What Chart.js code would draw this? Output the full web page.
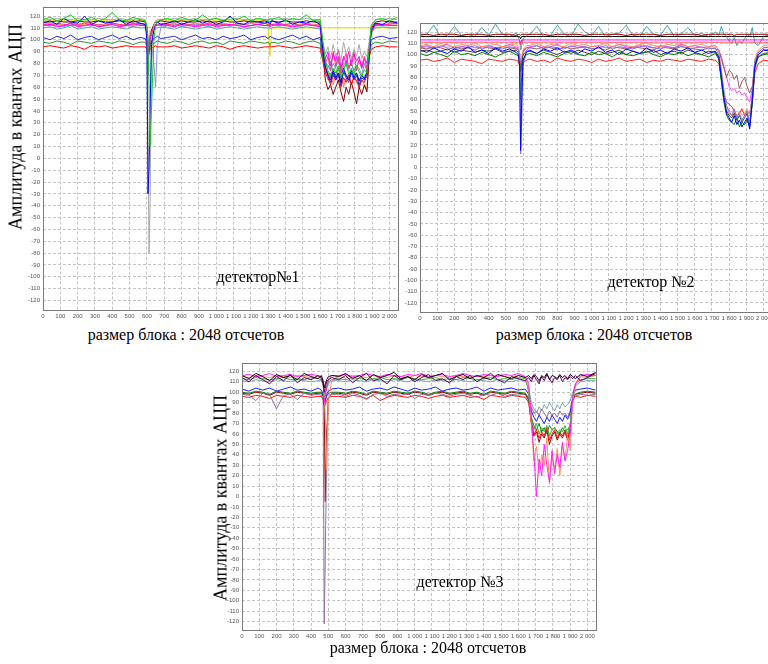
<!DOCTYPE html>
<html>
<head>
<meta charset="utf-8">
<script src="https://cdn.jsdelivr.net/npm/chart.js@4.4.1/dist/chart.umd.min.js"></script>
<style>
html,body{margin:0;padding:0;background:#fff;}
body{width:768px;height:664px;overflow:hidden;position:relative;}
.box{position:absolute;}
.txt{position:absolute;font-family:"Liberation Serif","Times New Roman",serif;color:#000;white-space:nowrap;}
.rot{transform:translate(-50%,-50%) rotate(-90deg);}
.ctr{transform:translate(-50%,-50%);}
</style>
</head>
<body>
<div class="box" style="left:20px;top:0px;width:380px;height:322px;"><canvas id="c1" width="380" height="322"></canvas></div>
<div class="box" style="left:400px;top:0px;width:374px;height:324px;"><canvas id="c2" width="374" height="324"></canvas></div>
<div class="box" style="left:220px;top:355px;width:378px;height:287px;"><canvas id="c3" width="378" height="287"></canvas></div>

<div class="txt rot" style="left:16px;top:127px;font-size:18px;">Амплитуда в квантах АЦП</div>
<div class="txt rot" style="left:221px;top:498px;font-size:18px;">Амплитуда в квантах АЦП</div>
<div class="txt ctr" style="left:186px;top:335px;font-size:16px;">размер блока : 2048 отсчетов</div>
<div class="txt ctr" style="left:594px;top:335px;font-size:16px;">размер блока : 2048 отсчетов</div>
<div class="txt ctr" style="left:428px;top:648px;font-size:16px;">размер блока : 2048 отсчетов</div>
<div class="txt ctr" style="left:258px;top:277px;font-size:16px;">детектор№1</div>
<div class="txt ctr" style="left:651px;top:282px;font-size:16px;">детектор №2</div>
<div class="txt ctr" style="left:460px;top:582px;font-size:16px;">детектор №3</div>

<script>
// ---------- axis ticks ----------
const xTickStep = 100;
const yTickStep = 10;
const xRange = [0, 2048];
const yRange = [-128, 128];

// ---------- detector 1 ----------
const xs1 = [0,40,80,120,160,200,240,280,320,360,400,440,480,520,560,
 590,600,606,612,618,626,640,650,660,680,
 720,760,800,840,880,920,960,1000,1040,1080,1120,1160,1200,1240,1280,
 1300,1310,1320,
 1360,1400,1440,1480,1520,1560,1600,
 1615,1630,1645,1660,1675,1690,1705,1720,1735,1750,1765,1780,1795,1810,1825,1840,1855,1870,1885,
 1895,1920,1960,2000,2047];

const d1Green = [117,119,116,118,121,116,117,119,116,118,123,117,116,119,117,
 116,112,100,60,10,40,100,112,115,117,
 118,116,119,117,116,121,117,118,116,119,117,120,116,118,117,
 116,118,117,
 119,116,118,117,121,116,117,
 100,82,74,70,76,72,78,68,74,80,71,76,70,78,73,69,75,72,95,
 112,117,118,116,119];
const d1Blue = [114,116,113,118,115,114,120,113,116,114,115,117,113,116,114,
 113,100,-30,-10,40,96,108,112,115,113,
 114,116,113,115,117,114,116,113,115,120,114,113,116,115,114,
 115,113,116,
 114,117,113,115,114,116,113,
 92,78,70,66,74,68,72,64,76,70,66,74,68,72,65,70,67,73,90,
 108,114,113,116,114];
const d1Gray = [117,117,118,117,117,118,117,117,118,117,117,118,117,117,118,
 117,110,20,-80,-40,90,112,116,117,117,
 117,118,117,117,118,117,117,118,117,117,118,117,117,118,117,
 117,117,118,
 117,118,117,117,118,117,117,
 98,88,94,84,96,86,92,82,98,88,94,84,92,86,96,84,90,86,100,
 112,117,117,118,117];
const d1Magenta = [112,113,111,112,114,111,112,113,111,112,113,111,112,114,112,
 112,108,70,95,100,104,110,112,112,113,
 112,111,113,112,111,112,113,111,112,113,112,111,112,113,112,
 112,111,112,
 113,112,111,112,113,112,111,
 96,84,90,78,88,82,92,76,86,80,90,78,88,82,86,76,84,80,98,
 108,112,113,112,112];
const d1Pink = [113,112,114,113,112,113,114,112,113,112,114,113,112,113,114,
 113,110,92,98,102,106,110,113,113,112,
 113,112,114,113,112,113,114,112,113,112,114,113,112,113,114,
 113,112,113,
 112,113,114,112,113,112,113,
 90,80,86,74,90,78,86,72,84,88,76,82,90,74,84,78,86,76,96,
 106,113,112,113,114];
const d1Teal = [110,111,109,110,112,109,110,111,109,110,111,110,109,111,110,
 110,106,92,100,104,107,109,110,110,111,
 110,109,111,110,109,110,111,109,110,111,110,109,110,111,110,
 110,109,110,
 111,110,109,110,111,110,109,
 94,82,78,74,80,76,84,72,78,82,76,80,74,78,82,76,80,74,96,
 106,110,111,110,110];
const d1Blue2 = [102,100,103,101,104,100,102,103,100,102,104,101,103,100,102,
 101,97,80,90,96,99,101,102,103,101,
 102,103,100,102,104,101,102,100,103,101,102,104,100,102,103,
 101,103,102,
 100,102,104,101,103,100,102,
 88,76,70,64,72,66,70,62,74,68,64,72,66,70,62,68,66,70,92,
 100,102,103,101,102];
const d1Green2 = [98,97,99,98,96,99,98,97,99,98,97,99,98,96,98,
 98,94,85,90,94,96,97,98,99,98,
 97,99,98,96,98,99,97,98,96,99,98,97,99,98,97,
 98,96,98,
 97,99,98,96,98,99,97,
 84,76,72,68,74,70,76,66,72,70,68,74,70,72,66,70,68,72,88,
 96,98,97,99,98];
const d1Red = [94,95,94,93,95,94,92,95,94,95,93,94,95,94,94,
 94,92,86,89,92,93,94,95,94,94,
 94,95,93,94,95,94,93,95,94,92,94,95,94,93,94,
 94,95,94,
 95,94,93,94,95,94,93,
 82,72,68,62,70,66,72,60,68,64,70,62,68,66,60,66,64,70,86,
 92,94,95,94,94];
const d1Brown = [115,115,116,115,115,116,115,115,116,115,115,116,115,115,116,
 115,110,90,95,100,108,113,115,115,116,
 115,115,116,115,115,116,115,115,116,115,115,116,115,115,116,
 115,115,116,
 115,116,115,115,116,115,115,
 90,66,58,62,54,60,66,56,48,60,54,64,56,46,60,54,62,56,90,
 110,115,116,115,115];
const d1Yellow = [116,116,116,116,116,116,116,116,116,116,116,116,116,116,116,
 116,112,100,105,108,88,114,116,116,116,
 116,116,116,116,116,116,116,116,116,116,116,116,116,116,116,
 110,86,110,
 110,110,110,110,110,110,110,
 110,110,110,110,110,110,110,110,110,110,110,110,110,110,110,110,110,110,110,
 110,110,110,110,110];
const d1Orange = [113,114,113,112,114,113,113,114,112,113,114,113,113,112,114,
 113,110,96,100,104,108,111,113,113,114,
 113,114,112,113,114,113,112,113,114,113,112,113,114,113,112,
 113,112,113,
 114,113,112,113,114,113,112,
 86,74,66,72,62,70,64,74,60,68,72,62,70,64,60,66,62,58,88,
 108,113,112,114,113];
const d1Lavender = [112,113,112,111,113,112,112,113,111,112,113,112,112,111,113,
 112,105,96,100,104,98,80,60,95,110,
 112,113,111,112,113,112,111,113,112,112,113,111,112,113,112,
 112,113,112,
 113,112,112,111,113,112,112,
 94,80,76,82,72,78,84,70,76,80,74,82,72,78,76,70,80,74,94,
 106,112,113,112,112];

// ---------- detector 2 ----------
const xs2 = [0,40,80,120,160,200,240,280,320,360,400,440,480,520,560,
 572,580,586,592,600,620,
 640,680,720,760,800,840,880,920,960,1000,1040,1080,1120,1160,1200,1240,1280,1320,1360,1400,1440,1480,1520,1560,1600,1640,1680,1720,
 1740,1755,1770,1785,1800,1815,1830,1845,1860,1875,1890,1905,1920,1935,
 1950,1970,2000,2048];

const d2Teal = [117,118,126,116,117,125,117,118,116,124,117,127,118,116,119,
 116,112,104,108,114,117,
 118,125,116,117,126,118,116,127,120,117,125,116,118,119,126,117,116,125,118,117,126,116,118,124,117,119,116,120,
 117,125,118,116,112,110,115,108,112,110,114,118,116,124,
 110,108,116,118];
const d2Black = [116,116,116,116,116,116,116,116,116,116,116,116,116,116,116,
 116,116,114,116,116,116,
 116,116,116,116,116,116,116,116,116,116,116,116,116,116,116,116,116,116,116,116,116,116,116,116,116,116,116,116,
 116,116,116,116,116,116,116,116,116,116,116,116,116,116,
 116,116,116,116];
const d2DarkRed = [118,118,117,118,118,118,117,118,118,118,117,118,118,118,117,
 118,118,117,118,118,118,
 118,118,118,117,118,118,118,118,117,118,118,118,118,118,117,118,118,118,118,117,118,118,118,118,118,117,118,118,
 118,118,118,118,118,118,117,118,118,118,118,118,118,118,
 118,118,118,118];
const d2Magenta = [113,113,113,113,113,113,113,113,113,113,113,113,113,113,113,
 113,113,110,113,113,113,
 113,113,113,113,113,113,113,113,113,113,113,113,113,113,113,113,113,113,113,113,113,113,113,113,113,113,113,113,
 113,113,113,113,113,113,113,113,113,113,113,113,113,113,
 113,113,113,113];
const d2PinkFlat = [111,111,111,111,111,111,111,111,111,111,111,111,111,111,111,
 111,111,108,111,111,111,
 111,111,111,111,111,111,111,111,111,111,111,111,111,111,111,111,111,111,111,111,111,111,111,111,111,111,111,111,
 111,111,111,111,111,111,111,111,111,111,111,111,111,111,
 111,111,111,111];
const d2Blue = [104,102,106,103,101,105,103,107,102,104,101,106,103,105,102,
 100,90,15,60,95,102,
 104,101,105,103,106,102,104,101,105,103,107,102,104,100,105,103,101,106,102,104,101,105,103,106,102,104,101,103,
 98,80,62,48,44,40,46,38,42,36,40,44,34,60,
 90,100,104,103];
const d2Lavender = [106,107,105,108,106,105,107,106,108,105,107,106,105,107,106,
 104,95,12,40,90,104,
 106,108,105,107,106,105,108,106,107,105,106,108,105,107,106,105,107,108,106,105,107,106,108,105,106,107,105,106,
 100,85,68,55,50,46,52,44,48,42,46,50,40,66,
 94,102,106,107];
const d2Green = [101,99,102,100,98,103,100,101,99,102,100,98,101,103,100,
 99,92,60,80,96,100,
 101,99,102,100,98,101,103,100,99,102,100,101,98,102,100,99,101,103,100,98,101,100,102,99,101,100,98,101,
 96,76,58,46,42,40,38,44,36,40,38,42,36,56,
 88,98,100,101];
const d2Dark = [103,104,102,103,105,102,104,103,102,104,103,105,102,103,104,
 102,96,85,92,100,103,
 103,101,104,102,100,103,101,104,102,100,103,101,102,104,100,103,101,102,104,100,102,103,101,104,102,100,103,102,
 97,78,60,50,46,44,48,42,46,40,44,48,38,58,
 90,98,101,102];
const d2Orange = [108,109,107,110,108,107,109,108,110,107,108,109,107,108,110,
 107,102,80,96,104,108,
 108,110,107,109,108,107,110,108,109,107,108,110,107,109,108,107,109,110,108,107,109,108,110,107,108,109,107,108,
 104,86,66,54,48,46,50,44,50,46,48,52,46,64,
 96,104,108,109];
const d2Red = [95,96,94,95,97,93,96,95,94,92,96,95,94,96,95,
 94,90,86,90,93,95,
 96,94,95,93,97,95,94,96,95,93,96,94,95,97,94,95,96,93,95,94,96,95,94,96,95,94,96,95,
 92,80,64,58,56,54,50,46,48,52,46,50,48,60,
 84,92,95,94];
const d2Brown = [106,105,107,106,104,107,105,106,104,107,106,105,107,106,105,
 105,100,88,95,103,106,
 106,105,107,106,104,107,105,106,107,105,106,104,107,106,105,107,106,105,104,107,106,105,107,106,105,104,106,105,
 104,96,88,80,86,84,78,82,70,76,80,72,66,72,
 92,100,104,105];
const d2Magenta2 = [107,108,106,107,109,106,107,108,106,107,108,106,107,109,107,
 106,100,80,92,102,106,
 107,108,106,107,109,106,107,108,106,107,108,106,107,109,107,106,108,107,106,108,107,106,109,107,108,106,107,108,
 104,98,90,80,72,68,70,66,68,64,66,62,58,70,
 94,102,106,107];

// ---------- detector 3 ----------
const xs3 = [0,40,80,120,160,200,240,280,320,360,400,440,
 460,470,476,482,490,500,520,
 560,600,640,680,720,760,800,840,880,920,960,1000,1040,1080,1120,1160,1200,1240,1280,1320,1360,1400,1440,1480,1520,1560,1600,1640,
 1660,1675,1690,1705,1720,1735,1750,1765,1780,1795,1810,1825,1840,1855,1870,1885,1900,1915,
 1930,1960,2000,2048];

const d3Purple = [114,110,116,112,108,115,111,117,109,114,112,116,
 113,108,100,104,110,112,114,
 112,116,109,114,118,111,113,108,116,112,115,110,114,117,111,113,109,115,112,116,110,114,118,112,109,115,113,111,
 114,110,116,112,108,115,111,117,113,109,114,112,116,110,114,112,115,113,
 116,111,114,118];
const d3Dark = [116,113,118,115,111,117,114,116,112,118,115,113,
 116,110,104,108,112,115,116,
 115,118,113,116,111,117,114,116,119,113,115,112,117,114,116,118,112,115,117,113,116,114,112,117,115,113,116,114,
 116,113,117,115,111,116,114,118,112,116,115,113,117,114,116,113,117,115,
 113,117,115,119];
const d3Magenta = [116,117,115,116,118,115,116,117,115,116,117,116,
 115,110,90,96,104,112,116,
 116,117,115,116,118,116,115,117,116,115,117,116,118,115,116,117,115,116,118,116,115,117,116,115,117,116,118,115,
 108,76,40,0,36,20,50,30,14,44,22,40,28,52,34,44,60,96,
 108,116,117,116];
const d3Orange = [115,114,116,115,114,116,115,114,116,115,114,115,
 114,112,100,80,25,90,112,
 115,114,116,115,114,116,115,114,116,115,114,116,115,114,116,115,114,116,115,114,116,115,114,116,115,114,116,115,
 104,70,34,48,22,40,30,56,12,38,26,46,20,50,36,58,44,92,
 106,115,114,116];
const d3Green = [113,112,114,113,112,113,114,112,113,112,114,113,
 112,108,96,100,104,110,112,
 113,112,114,113,112,113,114,112,113,112,114,113,112,113,114,112,113,112,114,113,112,113,114,112,113,112,114,113,
 100,76,64,70,60,66,62,68,58,64,66,60,64,62,68,60,70,96,
 108,112,113,113];
const d3TealGray = [111,110,112,111,110,112,111,110,112,111,110,111,
 111,106,94,100,104,108,111,
 111,110,112,111,110,112,111,110,112,111,110,112,111,110,112,111,110,112,111,110,112,111,110,112,111,110,112,111,
 104,90,84,80,86,82,88,84,90,86,82,88,84,90,86,88,92,100,
 106,110,111,111];
const d3Blue = [103,101,104,102,104,101,103,105,102,103,101,104,
 102,98,88,92,98,101,103,
 104,102,103,105,101,103,104,102,105,103,101,104,102,103,105,101,103,104,102,103,105,101,104,102,103,104,102,103,
 98,82,76,72,78,74,70,76,72,78,74,70,76,72,78,74,80,96,
 102,103,104,102];
const d3Green2 = [100,99,101,100,98,101,100,99,101,100,99,100,
 100,96,88,92,96,99,100,
 100,99,101,100,98,101,100,99,101,100,99,101,100,98,100,101,99,100,101,99,100,98,101,100,99,101,100,99,
 94,76,68,64,70,62,66,60,68,64,66,62,60,66,62,64,68,94,
 98,100,101,100];
const d3Mauve = [98,97,92,99,98,84,97,98,93,99,97,98,
 97,92,-122,-60,40,94,98,
 98,96,99,97,93,98,99,96,98,97,99,94,98,97,99,98,96,98,99,97,95,98,97,99,96,98,97,99,
 94,86,80,82,78,84,80,76,82,78,80,76,82,78,80,76,82,94,
 96,98,97,98];
const d3Red = [96,95,97,96,94,97,96,95,97,96,95,96,
 96,92,86,88,92,95,96,
 96,95,97,96,94,97,92,95,97,96,95,97,96,94,96,97,95,96,97,95,96,93,97,96,95,97,96,95,
 90,70,60,64,56,62,58,66,54,60,64,56,62,58,64,56,66,92,
 96,95,97,96];
const d3DarkRed = [99,98,100,99,97,100,99,98,100,99,98,99,
 99,96,90,-5,60,94,99,
 99,98,100,99,97,100,99,98,100,99,98,100,99,97,99,100,98,99,100,98,99,97,100,99,98,100,99,98,
 92,72,58,62,52,60,56,64,50,58,62,54,60,56,62,54,64,92,
 98,99,100,99];

// ---------- styles ----------
const panel1 = [
 ['d1Green', d1Green, '#10d010'], ['d1Blue', d1Blue, '#0000ff'], ['d1Gray', d1Gray, '#a8a8a8'],
 ['d1Magenta', d1Magenta, '#ff00ff'], ['d1Pink', d1Pink, '#ff3080'], ['d1Teal', d1Teal, '#5fa0a0'],
 ['d1Blue2', d1Blue2, '#2828e0'], ['d1Green2', d1Green2, '#309030'], ['d1Red', d1Red, '#ff0000'],
 ['d1Brown', d1Brown, '#800000'], ['d1Yellow', d1Yellow, '#e8e000'], ['d1Orange', d1Orange, '#ff8040'],
 ['d1Lavender', d1Lavender, '#9090e0']
];
const panel2 = [
 ['d2Black', d2Black, '#000000'], ['d2DarkRed', d2DarkRed, '#900000'], ['d2Magenta', d2Magenta, '#ff00ff'],
 ['d2PinkFlat', d2PinkFlat, '#ff5050'], ['d2Teal', d2Teal, '#40a8a8'], ['d2Blue', d2Blue, '#0000ff'],
 ['d2Lavender', d2Lavender, '#7878e8'], ['d2Green', d2Green, '#008000'], ['d2Dark', d2Dark, '#404040'],
 ['d2Orange', d2Orange, '#ff9050'], ['d2Red', d2Red, '#ff2020'], ['d2Brown', d2Brown, '#a05858'],
 ['d2Magenta2', d2Magenta2, '#ff40ff']
];
const panel3 = [
 ['d3Dark', d3Dark, '#200020'], ['d3Purple', d3Purple, '#600060'], ['d3Magenta', d3Magenta, '#ff20ff'],
 ['d3Orange', d3Orange, '#ff9060'], ['d3Green', d3Green, '#40b040'], ['d3TealGray', d3TealGray, '#78a8a8'],
 ['d3Blue', d3Blue, '#2020ff'], ['d3Green2', d3Green2, '#108010'], ['d3Mauve', d3Mauve, '#9070a0'],
 ['d3Red', d3Red, '#ff1010'], ['d3DarkRed', d3DarkRed, '#a00000']
];

function check(xs, list){
  list.forEach(([n, a]) => { if (a.length !== xs.length) throw new Error(n + ' has ' + a.length + ' points, expected ' + xs.length); });
}
check(xs1, panel1); check(xs2, panel2); check(xs3, panel3);

const frame = {
  id: 'frame',
  afterDraw(chart){
    const a = chart.chartArea, c = chart.ctx;
    c.save(); c.strokeStyle = '#7a7a7a'; c.lineWidth = 1;
    c.strokeRect(Math.round(a.left)+0.5, Math.round(a.top)+0.5, Math.round(a.right-a.left), Math.round(a.bottom-a.top));
    c.restore();
  }
};

const fmtX = v => v >= 1000 ? Math.floor(v/1000) + ' ' + String(v % 1000).padStart(3,'0') : String(v);

function makeChart(id, xs, list, cfg){
  const datasets = list.map(([n, ys, col]) => ({
    label: n,
    data: xs.map((x, i) => ({x: x, y: ys[i]})),
    borderColor: col, borderWidth: 1, pointRadius: 0, tension: 0, fill: false
  }));
  const tickFont = {family: 'Liberation Sans, Arial, sans-serif', size: 6};
  new Chart(document.getElementById(id), {
    type: 'line',
    data: {datasets},
    options: {
      responsive: false, animation: false, devicePixelRatio: 1,
      layout: {padding: {top: cfg.pt, right: cfg.pr, left: 0, bottom: 0}},
      plugins: {legend: {display: false}, tooltip: {enabled: false}},
      scales: {
        x: {
          type: 'linear', min: xRange[0], max: xRange[1],
          afterFit: s => { s.height = cfg.xh; },
          grid: {color: '#c4c4c4', lineWidth: 1, drawTicks: false},
          border: {display: false, dash: [3, 2]},
          ticks: {stepSize: xTickStep, includeBounds: false, autoSkip: false, maxRotation: 0,
                  padding: 3, font: tickFont, color: '#555', callback: v => fmtX(v)}
        },
        y: {
          type: 'linear', min: yRange[0], max: yRange[1],
          afterFit: s => { s.width = cfg.yw; },
          grid: {color: '#c4c4c4', lineWidth: 1, drawTicks: false},
          border: {display: false, dash: [3, 2]},
          ticks: {stepSize: yTickStep, includeBounds: false, autoSkip: false,
                  padding: 3, font: tickFont, color: '#555', callback: v => String(v)}
        }
      }
    },
    plugins: [frame]
  });
}

makeChart('c1', xs1, panel1, {pt: 6, pr: 2, xh: 12, yw: 23});
makeChart('c2', xs2, panel2, {pt: 23, pr: 2, xh: 12, yw: 20});
makeChart('c3', xs3, panel3, {pt: 8, pr: 2, xh: 12, yw: 22});
</script>
</body>
</html>
